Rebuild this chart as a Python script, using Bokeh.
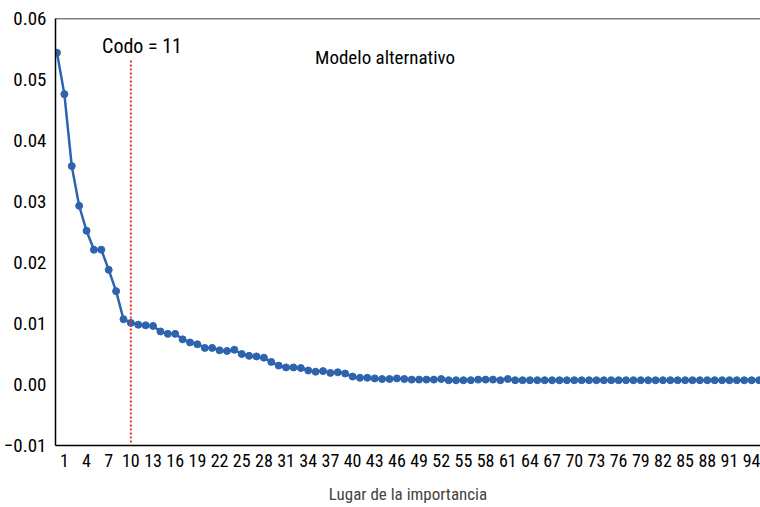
from bokeh.plotting import figure
from bokeh.models import Span, Label, FixedTicker, CustomJSTickFormatter, Range1d, ColumnDataSource, Segment
from bokeh.embed import file_html
from bokeh.resources import INLINE

# ---- data ----
rank = list(range(96))  # 0-based position of each variable
importance = [
    0.0544, 0.0476, 0.0358, 0.0293, 0.0252, 0.0221, 0.0221, 0.0188, 0.0153, 0.0107,
    0.0101, 0.0098, 0.0097, 0.0096, 0.0087, 0.0083, 0.0083, 0.0074, 0.0069, 0.0066,
    0.0060, 0.0060, 0.0056, 0.0055, 0.0057, 0.0050, 0.0047, 0.0046, 0.0044, 0.0037,
    0.0031, 0.0028, 0.0028, 0.0027, 0.0023, 0.0021, 0.0022, 0.0019, 0.0020, 0.0018,
    0.0013, 0.0011, 0.0011, 0.0010, 0.0009, 0.0009, 0.0010, 0.0009, 0.0008, 0.0008,
    0.0008, 0.0008, 0.0009, 0.0007, 0.0007, 0.0007, 0.0007, 0.0008, 0.0008, 0.0008,
    0.0007, 0.0009, 0.0007, 0.0007, 0.0007, 0.0007, 0.0007, 0.0007, 0.0007, 0.0007,
    0.0007, 0.0007, 0.0007, 0.0007, 0.0007, 0.0007, 0.0007, 0.0007, 0.0007, 0.0007,
    0.0007, 0.0007, 0.0007, 0.0007, 0.0007, 0.0007, 0.0007, 0.0007, 0.0007, 0.0007,
    0.0007, 0.0007, 0.0007, 0.0007, 0.0007, 0.0007,
]
x_ticks = [1, 4, 7, 10, 13, 16, 19, 22, 25, 28, 31, 34, 37, 40, 43, 46, 49, 52, 55, 58,
           61, 64, 67, 70, 73, 76, 79, 82, 85, 88, 91, 94]
y_ticks = [-0.01, 0.0, 0.01, 0.02, 0.03, 0.04, 0.05, 0.06]
codo = 11
codo_line_bottom = -0.0095
codo_line_top = 0.0533
x_label = "Lugar de la importancia"
model_label = "Modelo alternativo"

FONT = "'Roboto Condensed', 'DejaVu Sans Condensed', 'Liberation Sans'"
BLUE = "#2e63ae"
RED = "#e8302f"

p = figure(frame_width=705, frame_height=427, output_backend="svg", toolbar_location=None,
           x_range=Range1d(-0.2, 95.2), y_range=Range1d(-0.01, 0.06),
           min_border_left=46, min_border_top=18, min_border_right=0, min_border_bottom=0)
p.outline_line_color = None
p.xgrid.grid_line_color = None
p.ygrid.grid_line_color = None
p.background_fill_color = "white"
p.border_fill_color = "white"

src = ColumnDataSource(dict(x=rank, y=importance))
p.line("x", "y", source=src, line_color=BLUE, line_width=2.5)
p.scatter("x", "y", source=src, size=7, fill_color=BLUE, line_color=BLUE)

seg = ColumnDataSource(dict(x0=[codo - 1], y0=[codo_line_bottom], x1=[codo - 1], y1=[codo_line_top]))
p.add_glyph(seg, Segment(x0="x0", y0="y0", x1="x1", y1="y1", line_color=RED, line_width=2, line_dash="2 2"))

p.add_layout(Span(location=0.06, dimension="width", line_color="black", line_width=1.5))

p.add_layout(Label(x=11.5, y=0.0555, text=f"Codo = {codo}", text_font=FONT, text_font_size="20px",
                   text_align="center", text_baseline="middle", text_color="black"))
p.add_layout(Label(x=44.4, y=0.0536, text=model_label, text_font=FONT, text_font_size="19px",
                   text_align="center", text_baseline="middle", text_color="black"))

for ax in (p.xaxis[0], p.yaxis[0]):
    ax.axis_line_color = "black"
    ax.axis_line_width = 1.5
    ax.major_tick_line_color = None
    ax.minor_tick_line_color = None
    ax.major_label_text_font = FONT
    ax.major_label_text_color = "black"

p.yaxis[0].ticker = FixedTicker(ticks=y_ticks)
p.yaxis[0].formatter = CustomJSTickFormatter(code="return tick.toFixed(2).replace('-', '\u2212');")
p.yaxis[0].major_label_text_font_size = "19px"
p.yaxis[0].major_label_standoff = 3

p.xaxis[0].ticker = FixedTicker(ticks=x_ticks)
p.xaxis[0].major_label_text_font_size = "18px"
p.xaxis[0].major_label_standoff = 2
p.xaxis[0].axis_label = x_label
p.xaxis[0].axis_label_text_font = FONT
p.xaxis[0].axis_label_text_font_size = "17px"
p.xaxis[0].axis_label_text_font_style = "normal"
p.xaxis[0].axis_label_standoff = 14

open("out.html", "w").write(file_html(p, INLINE))
